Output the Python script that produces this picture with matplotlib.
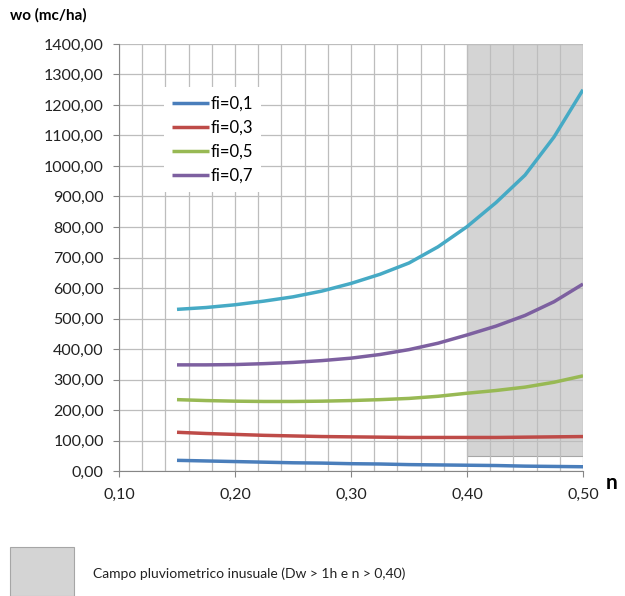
import matplotlib
matplotlib.use('Agg')
import matplotlib.pyplot as plt
from matplotlib.ticker import MultipleLocator, FuncFormatter
from matplotlib.patches import Rectangle

plt.rcParams['font.family'] = ['Lato', 'DejaVu Sans']

# valori
n = [0.15, 0.175, 0.20, 0.225, 0.25, 0.275, 0.30, 0.325, 0.35, 0.375, 0.40, 0.425, 0.45, 0.475, 0.50]
fi_01 = [35, 33, 31, 29, 27, 26, 24, 23, 21, 20, 19, 18, 16, 15, 14]
fi_03 = [127, 123, 120, 117, 115, 113, 112, 111, 110, 110, 110, 110, 111, 112, 113]
fi_05 = [234, 231, 229, 228, 228, 229, 231, 234, 238, 245, 255, 264, 275, 291, 312]
fi_07 = [348, 348, 349, 352, 356, 362, 370, 382, 398, 419, 446, 475, 510, 555, 613]
fi_09 = [530, 536, 545, 557, 571, 590, 615, 645, 682, 735, 801, 880, 970, 1095, 1250]

etichette = ['fi=0,1', 'fi=0,3', 'fi=0,5', 'fi=0,7']
colori = ['#4a7ebb', '#be4b48', '#98b954', '#7d60a0', '#46aac5']

# campo inusuale
zona_n = [0.40, 0.50]
zona_w = [50, 1400]

fig = plt.figure(figsize=(6.25, 5.96), dpi=100)
ax = fig.add_axes([0.1904, 0.2097, 0.7424, 0.7165])

ax.add_patch(Rectangle((zona_n[0], zona_w[0]), zona_n[1] - zona_n[0], zona_w[1] - zona_w[0],
                       facecolor='#d4d4d4', edgecolor='#a6a6a6', lw=0.8, zorder=0))

serie = [fi_01, fi_03, fi_05, fi_07, fi_09]
for i, s in enumerate(serie):
    lab = etichette[i] if i < len(etichette) else '_nolegend_'
    ax.plot(n, s, color=colori[i], lw=2.5, label=lab, zorder=3,
            solid_capstyle='butt', solid_joinstyle='round')

ax.set_xlim(0.10, 0.50)
ax.set_ylim(0, 1400)
ax.xaxis.set_major_locator(MultipleLocator(0.10))
ax.xaxis.set_minor_locator(MultipleLocator(0.02))
ax.yaxis.set_major_locator(MultipleLocator(100))
ax.xaxis.set_major_formatter(FuncFormatter(lambda v, p: f'{v:.2f}'.replace('.', ',')))
ax.yaxis.set_major_formatter(FuncFormatter(lambda v, p: f'{v:.2f}'.replace('.', ',')))

ax.grid(True, which='both', color='#bdbdbd', lw=0.9)
ax.set_axisbelow(True)
ax.tick_params(axis='both', which='major', direction='out', length=4, color='#868686',
               labelsize=11.5, labelcolor='#222222')
ax.tick_params(axis='y', which='major', pad=7)
ax.tick_params(axis='x', which='major', pad=8)
ax.tick_params(axis='both', which='minor', length=0)
for lato in ['top', 'right']:
    ax.spines[lato].set_visible(False)
for lato in ['left', 'bottom']:
    ax.spines[lato].set_color('#868686')

leg = ax.legend(loc='upper left', bbox_to_anchor=(0.078, 0.918), frameon=True, fancybox=False,
                edgecolor='none', facecolor='white', framealpha=1, fontsize=12,
                handlelength=2.2, handletextpad=0.1, labelspacing=0.48, borderpad=0.5)

fig.text(0.016, 0.975, 'wo (mc/ha)', fontsize=11, fontweight='bold', va='center', ha='left')
fig.text(0.988, 0.19, 'n', fontsize=15, fontweight='bold', va='center', ha='right')

fig.patches.append(Rectangle((0.016, 0.0), 0.103, 0.083, transform=fig.transFigure,
                             facecolor='#d4d4d4', edgecolor='#a6a6a6', lw=0.8))
fig.text(0.149, 0.037, 'Campo pluviometrico inusuale (Dw > 1h e n > 0,40)', fontsize=10,
         va='center', ha='left', color='#222222')

fig.savefig('out.png', dpi=100)
